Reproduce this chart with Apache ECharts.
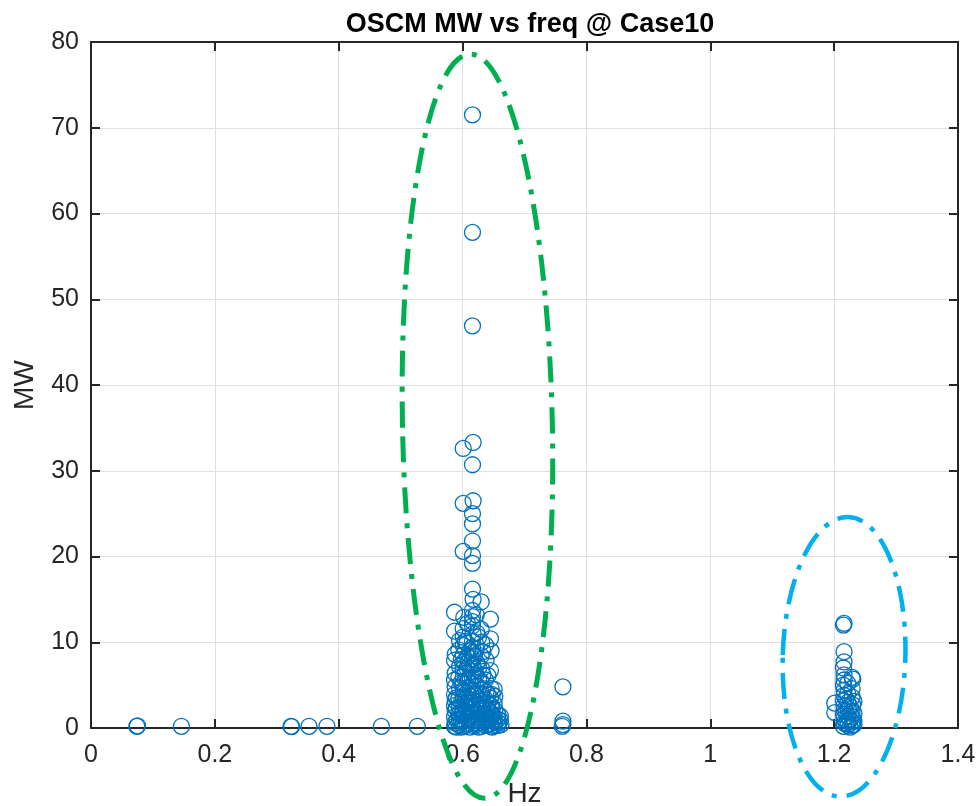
<!DOCTYPE html>
<html>
<head>
<meta charset="utf-8">
<script src="https://cdn.jsdelivr.net/npm/echarts@6/dist/echarts.min.js"></script>
<style>
  html, body { margin: 0; padding: 0; background: #ffffff; }
  #chart { width: 980px; height: 806px; }
</style>
</head>
<body>
<div id="chart"></div>
<script>
// low-frequency points along the bottom
const lowFreq = [
  [0.074, 0.2], [0.075, 0.25], [0.146, 0.2], [0.323, 0.2], [0.324, 0.15],
  [0.352, 0.2], [0.381, 0.2], [0.469, 0.2], [0.527, 0.2]
]

// main cluster around 0.6 Hz
const mainCluster = [
  // column ~0.616
  [0.616, 71.5], [0.616, 57.8], [0.616, 46.9], [0.617, 33.3], [0.616, 30.7],
  [0.617, 26.5], [0.616, 25.0], [0.616, 23.8], [0.616, 21.8], [0.616, 20.1],
  [0.616, 19.2], [0.616, 16.2], [0.617, 15.0], [0.616, 13.7], [0.616, 13.0],
  [0.616, 12.4], [0.616, 11.9], [0.617, 11.0], [0.616, 10.1], [0.616, 9.4],
  [0.616, 8.8], [0.616, 8.1], [0.617, 7.3], [0.616, 6.6], [0.616, 5.8],
  [0.616, 5.1], [0.616, 4.3], [0.616, 3.6], [0.616, 2.9], [0.616, 2.2],
  [0.616, 1.5], [0.616, 0.8], [0.616, 0.3],
  // column ~0.601
  [0.601, 32.6], [0.601, 26.2], [0.601, 20.6], [0.602, 12.9], [0.601, 11.6],
  [0.601, 10.6], [0.601, 9.6], [0.601, 8.5], [0.602, 7.7], [0.601, 6.9],
  [0.601, 6.0], [0.601, 5.2], [0.601, 4.4], [0.601, 3.6], [0.602, 2.8],
  [0.601, 2.1], [0.601, 1.4], [0.601, 0.7], [0.601, 0.2],
  // column ~0.588
  [0.587, 13.5], [0.587, 11.3], [0.588, 8.6], [0.587, 7.9], [0.588, 6.4],
  [0.587, 5.6], [0.588, 4.8], [0.587, 3.9], [0.588, 3.2], [0.587, 2.6],
  [0.588, 2.0], [0.587, 1.3], [0.588, 0.6], [0.587, 0.2],
  // column ~0.595
  [0.595, 10.2], [0.594, 9.1], [0.595, 7.2], [0.594, 5.9], [0.595, 4.6],
  [0.594, 3.4], [0.595, 2.4], [0.594, 1.7], [0.595, 1.0], [0.594, 0.4],
  // column ~0.608
  [0.608, 12.2], [0.607, 9.9], [0.608, 8.3], [0.607, 7.0], [0.608, 5.5],
  [0.607, 4.1], [0.608, 3.0], [0.607, 1.9], [0.608, 1.1], [0.607, 0.5],
  // column ~0.622
  [0.622, 13.2], [0.623, 11.1], [0.622, 9.2], [0.623, 7.6], [0.622, 6.2],
  [0.623, 4.9], [0.622, 3.8], [0.623, 2.7], [0.622, 1.8], [0.623, 1.0],
  [0.622, 0.4],
  // column ~0.630
  [0.630, 14.7], [0.630, 11.5], [0.631, 10.0], [0.630, 8.4], [0.631, 6.9],
  [0.630, 5.4], [0.631, 4.0], [0.630, 3.1], [0.631, 2.3], [0.630, 1.4],
  [0.631, 0.6], [0.630, 0.2],
  // column ~0.637
  [0.637, 9.7], [0.638, 7.9], [0.637, 5.6], [0.638, 4.2], [0.637, 3.3],
  [0.638, 2.5], [0.637, 1.6], [0.638, 0.9], [0.637, 0.3],
  // column ~0.645
  [0.645, 12.7], [0.645, 10.4], [0.646, 9.0], [0.645, 6.7], [0.646, 4.6],
  [0.645, 3.5], [0.646, 2.6], [0.645, 1.8], [0.646, 1.2], [0.645, 0.5],
  [0.646, 0.2],
  // right edge
  [0.651, 4.5], [0.652, 3.7], [0.651, 2.8], [0.652, 2.1], [0.651, 1.3],
  [0.652, 0.7], [0.651, 0.3],
  [0.657, 1.5], [0.657, 1.0], [0.658, 0.6], [0.657, 0.3],
  [0.661, 1.4], [0.661, 0.9], [0.662, 0.4],
  // dense base of the cluster
  [0.590, 3.5], [0.590, 2.3], [0.591, 1.0], [0.590, 0.1],
  [0.598, 8.0], [0.598, 5.3], [0.598, 3.0], [0.599, 1.9], [0.598, 0.9], [0.598, 0.1],
  [0.604, 10.1], [0.604, 6.4], [0.604, 3.3], [0.605, 2.4], [0.604, 1.6], [0.604, 0.3],
  [0.612, 9.0], [0.612, 7.4], [0.612, 4.7], [0.612, 3.2], [0.613, 2.5], [0.612, 1.2], [0.612, 0.1],
  [0.619, 8.4], [0.619, 6.1], [0.619, 4.0], [0.620, 2.6], [0.619, 1.9], [0.619, 0.6],
  [0.626, 10.6], [0.626, 7.0], [0.626, 5.7], [0.626, 3.4], [0.627, 2.0], [0.626, 1.2], [0.626, 0.1],
  [0.633, 8.9], [0.633, 6.2], [0.633, 4.6], [0.634, 2.8], [0.633, 1.7], [0.633, 0.8],
  [0.641, 6.1], [0.641, 3.9], [0.641, 2.9], [0.641, 2.0], [0.642, 1.1], [0.641, 0.4],
  [0.648, 3.9], [0.648, 2.3], [0.648, 1.5], [0.649, 0.9], [0.648, 0.1]
]

// small group near 0.76 Hz
const sideCluster = [
  [0.762, 4.8], [0.762, 0.8], [0.762, 0.4], [0.761, 0.2]
]

// cluster around 1.2 Hz
const highCluster = [
  [1.216, 12.2], [1.215, 12.0], [1.216, 8.9], [1.216, 7.7], [1.215, 7.0],
  [1.216, 6.2], [1.216, 5.6], [1.215, 5.0], [1.216, 4.4], [1.216, 3.8],
  [1.215, 3.2], [1.216, 2.6], [1.216, 2.1], [1.215, 1.6], [1.216, 1.1],
  [1.216, 0.6], [1.215, 0.2],
  [1.201, 2.9], [1.201, 1.8],
  [1.222, 5.2], [1.222, 4.0], [1.222, 3.0], [1.223, 2.2], [1.222, 1.4],
  [1.222, 0.8], [1.222, 0.3],
  [1.229, 5.9], [1.230, 5.7], [1.229, 4.6], [1.229, 3.6], [1.230, 2.7],
  [1.229, 2.0], [1.229, 1.3], [1.230, 0.7], [1.229, 0.3],
  [1.232, 3.1], [1.232, 1.7], [1.232, 0.9], [1.232, 0.4],
  [1.219, 3.4], [1.219, 1.9], [1.219, 0.5], [1.226, 2.5], [1.226, 1.0], [1.226, 0.1]
]

// annotation ellipses, in data units: centre, half-width, half-height
const greenRing = { cx: 0.624, cy: 35.2, rx: 0.121, ry: 43.4 }
const blueRing = { cx: 1.216, cy: 8.3, rx: 0.099, ry: 16.3 }

const xTicks = { min: 0, max: 1.4, interval: 0.2 }
const yTicks = { min: 0, max: 80, interval: 10 }

const axisColor = '#262626'
const font = 'Liberation Sans, Arial, Helvetica, sans-serif'

const chart = echarts.init(document.getElementById('chart'))

const frameAxis = {
  axisLine: { show: true, onZero: false, lineStyle: { color: axisColor, width: 2 } },
  axisTick: { show: true, inside: true, length: 9, lineStyle: { color: axisColor, width: 2 } },
  axisLabel: { show: false },
  splitLine: { show: false }
}

chart.setOption({
  backgroundColor: '#ffffff',
  animation: false,
  title: {
    text: 'OSCM MW vs freq @ Case10',
    left: 525,
    top: 6,
    textAlign: 'center',
    textStyle: {
      fontFamily: font,
      fontWeight: 'bold',
      fontSize: 27,
      color: '#000000'
    }
  },
  grid: {
    left: 91,
    right: 22,
    top: 42,
    bottom: 78,
    containLabel: false,
    outerBoundsMode: 'none'
  },
  xAxis: [{
    type: 'value',
    min: xTicks.min,
    max: xTicks.max,
    interval: xTicks.interval,
    name: 'Hz',
    nameLocation: 'middle',
    nameGap: 52,
    nameTextStyle: { fontFamily: font, fontSize: 28, color: axisColor },
    axisLine: { show: true, onZero: false, lineStyle: { color: axisColor, width: 2 } },
    axisTick: { show: true, inside: true, length: 9, lineStyle: { color: axisColor, width: 2 } },
    axisLabel: { fontFamily: font, fontSize: 25, color: axisColor, margin: 15 },
    splitLine: { show: true, lineStyle: { color: '#dfdfdf', width: 1 } }
  }, Object.assign({
    type: 'value',
    position: 'top',
    min: xTicks.min,
    max: xTicks.max,
    interval: xTicks.interval
  }, frameAxis)],
  yAxis: [{
    type: 'value',
    min: yTicks.min,
    max: yTicks.max,
    interval: yTicks.interval,
    name: 'MW',
    nameLocation: 'middle',
    nameGap: 52,
    nameTextStyle: { fontFamily: font, fontSize: 28, color: axisColor },
    axisLine: { show: true, onZero: false, lineStyle: { color: axisColor, width: 2 } },
    axisTick: { show: true, inside: true, length: 9, lineStyle: { color: axisColor, width: 2 } },
    axisLabel: { fontFamily: font, fontSize: 25, color: axisColor, margin: 12 },
    splitLine: { show: true, lineStyle: { color: '#dfdfdf', width: 1 } }
  }, Object.assign({
    type: 'value',
    position: 'right',
    min: yTicks.min,
    max: yTicks.max,
    interval: yTicks.interval
  }, frameAxis)],
  series: [lowFreq, mainCluster, sideCluster, highCluster].map(data => ({
    type: 'scatter',
    symbol: 'circle',
    symbolSize: 16,
    clip: false,
    itemStyle: {
      color: 'rgba(0,0,0,0)',
      borderColor: '#0072BD',
      borderWidth: 1.3,
      opacity: 1
    },
    data: data
  }))
})

function ringGraphic(ring, color, width, rotation) {
  const c = chart.convertToPixel({ gridIndex: 0 }, [ring.cx, ring.cy])
  const e = chart.convertToPixel({ gridIndex: 0 }, [ring.cx + ring.rx, ring.cy + ring.ry])
  return {
    type: 'ellipse',
    z: 100,
    x: c[0],
    y: c[1],
    rotation: rotation,
    shape: { cx: 0, cy: 0, rx: Math.abs(e[0] - c[0]), ry: Math.abs(c[1] - e[1]) },
    style: {
      fill: 'none',
      stroke: color,
      lineWidth: width,
      lineDash: [26, 10, 5, 10]
    },
    silent: true
  }
}

chart.setOption({
  graphic: [
    ringGraphic(greenRing, '#00B050', 5, 0.02),
    ringGraphic(blueRing, '#00B0F0', 4.5, -0.03)
  ]
})
</script>
</body>
</html>
